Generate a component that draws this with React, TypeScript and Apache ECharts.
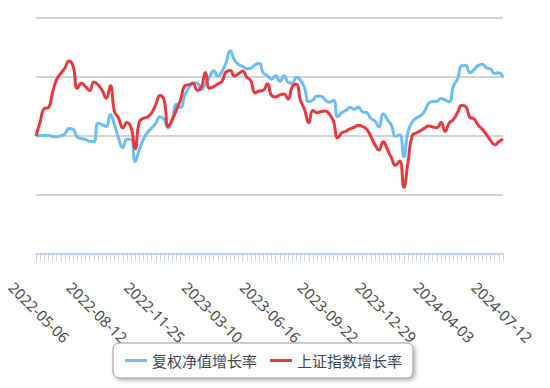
import React, { useEffect, useRef } from "react";
import * as echarts from "echarts";

const dates: string[] = [
  "2022-05-06", "2022-05-13", "2022-05-20", "2022-05-27", "2022-06-02", "2022-06-10", "2022-06-17", "2022-06-24", "2022-07-01", "2022-07-08",
  "2022-07-15", "2022-07-22", "2022-07-29", "2022-08-05", "2022-08-12", "2022-08-19", "2022-08-26", "2022-09-02", "2022-09-09", "2022-09-16",
  "2022-09-23", "2022-09-30", "2022-10-14", "2022-10-21", "2022-10-28", "2022-11-04", "2022-11-11", "2022-11-18", "2022-11-25", "2022-12-02",
  "2022-12-09", "2022-12-16", "2022-12-23", "2022-12-30", "2023-01-06", "2023-01-13", "2023-01-20", "2023-02-03", "2023-02-10", "2023-02-17",
  "2023-02-24", "2023-03-03", "2023-03-10", "2023-03-17", "2023-03-24", "2023-03-31", "2023-04-07", "2023-04-14", "2023-04-21", "2023-04-28",
  "2023-05-05", "2023-05-12", "2023-05-19", "2023-05-26", "2023-06-02", "2023-06-09", "2023-06-16", "2023-06-21", "2023-06-30", "2023-07-07",
  "2023-07-14", "2023-07-21", "2023-07-28", "2023-08-04", "2023-08-11", "2023-08-18", "2023-08-25", "2023-09-01", "2023-09-08", "2023-09-15",
  "2023-09-22", "2023-09-28", "2023-10-06", "2023-10-13", "2023-10-20", "2023-10-27", "2023-11-03", "2023-11-10", "2023-11-17", "2023-11-24",
  "2023-12-01", "2023-12-08", "2023-12-15", "2023-12-22", "2023-12-29", "2024-01-05", "2024-01-12", "2024-01-19", "2024-01-26", "2024-02-02",
  "2024-02-06", "2024-02-08", "2024-02-23", "2024-03-01", "2024-03-08", "2024-03-15", "2024-03-22", "2024-03-29", "2024-04-03", "2024-04-12",
  "2024-04-19", "2024-04-26", "2024-04-30", "2024-05-10", "2024-05-17", "2024-05-24", "2024-05-31", "2024-06-07", "2024-06-14", "2024-06-21",
  "2024-06-28", "2024-07-05", "2024-07-12", "2024-07-19",
];

// 复权净值增长率 (%)
const fundGrowth: number[] = [
  0, 0.08, 0.08, 0.12, -0.08, -0.12, 0.03, 0.37, 1.29, 1.12,
  -0.22, -0.45, -0.6, -0.91, -0.94, 2.18, 1.94, 1.63, 3.64, 1.88,
  -0.39, -1.98, -0.55, -0.57, -4.33, -2.31, -0.52, 0.62, 1.38, 2.15,
  3.25, 2.82, 1.38, 2.89, 5.37, 4.8, 6.88, 8.17, 9.02, 8.96,
  7.87, 8.79, 10.02, 11.07, 10.13, 10.94, 12.45, 14.46, 12.89, 12.13,
  11.8, 11.4, 11.49, 12.06, 12.28, 10.67, 10.22, 9.64, 10.23, 9.26,
  10.23, 9.09, 8.93, 9.93, 9.45, 8.09, 5.79, 6.12, 6.76, 6.74,
  6.11, 5.72, 6.06, 3.27, 3.96, 4.35, 4.85, 4.55, 4.87, 4.11,
  3.98, 3.01, 2.55, 1.51, 3.78, 2.79, 1.83, -0.03, 0.2, -3.49,
  0.64, 2.35, 3.04, 3.42, 4.16, 5.55, 5.84, 5.89, 6.36, 6.12,
  5.79, 8.47, 9.68, 11.91, 11.95, 10.72, 11.24, 11.93, 12.16, 11.54,
  11.36, 10.6, 10.74, 9.89,
];

// 上证指数增长率 (%)
const indexGrowth: number[] = [
  0, 2.38, 4.65, 4.82, 7.33, 9.6, 10.6, 11.53, 12.7, 11.78,
  8.09, 8.96, 8.37, 7.7, 9.14, 8.69, 7.75, 6.41, 8.51, 4.14,
  3.0, 1.38, 2.3, 1.46, -2.15, 2.38, 3.0, 3.22, 3.91, 5.35,
  6.88, 6.07, 1.63, 2.8, 4.48, 6.17, 8.51, 8.71, 8.88, 7.77,
  8.26, 10.77, 8.09, 8.36, 8.84, 9.26, 10.87, 11.09, 10.17, 10.54,
  11.01, 9.98, 9.35, 7.33, 7.63, 7.75, 8.84, 6.86, 6.63, 6.95,
  7.1, 6.29, 8.34, 8.76, 6.04, 4.46, 2.27, 4.33, 3.96, 4.16,
  4.23, 3.72, 2.48, -0.3, 0.52, 0.81, 1.21, 1.48, 1.83, 1.61,
  1.17, -0.07, -1.46, -2.38, -0.97, -2.25, -3.71, -4.95, -4.24, -8.69,
  -4.5, 0.03, 0.52, 0.87, 1.34, 1.68, 1.54, 1.38, 2.27, 0.79,
  2.23, 2.8, 3.98, 5.15, 4.98, 3.14, 2.9, 1.83, 1.14, 0.23,
  -0.74, -1.49, -0.97, -0.52,
];

const seriesNames: string[] = ["复权净值增长率", "上证指数增长率"];

const CJK_FONT = "'Noto Sans CJK SC', 'Noto Sans', sans-serif";
const LATIN_FONT = "'Noto Sans', 'Open Sans', sans-serif";

export default function App() {
  const ref = useRef<HTMLDivElement>(null);

  useEffect(() => {
    if (!ref.current) return;
    const chart = echarts.init(ref.current, undefined, { renderer: "svg" });
    chart.setOption({
      animation: false,
      backgroundColor: "#ffffff",
      grid: { left: 36, right: 47, top: 18, bottom: 134 },
      legend: {
        left: 113,
        top: 343,
        data: seriesNames,
        icon: "rect",
        backgroundColor: "#ffffff",
        borderColor: "#999999",
        borderWidth: 1,
        borderRadius: 6,
        shadowBlur: 4,
        shadowColor: "rgba(0,0,0,0.3)",
        shadowOffsetX: 2,
        shadowOffsetY: 2,
        padding: [10, 11, 10, 12],
        itemWidth: 22,
        itemHeight: 3,
        itemGap: 13,
        textStyle: { fontSize: 15, color: "#3c4654", fontFamily: CJK_FONT, lineHeight: 15 },
      },
      xAxis: {
        type: "category",
        boundaryGap: false,
        data: dates,
        axisLine: { show: true, onZero: false, lineStyle: { color: "#c5d3e6", width: 2 } },
        axisTick: { show: true, interval: 0, length: 7, lineStyle: { color: "#c5d3e6", width: 1 } },
        axisLabel: {
          interval: 13,
          rotate: -45,
          align: "center",
          verticalAlign: "middle",
          margin: 55,
          padding: [0, 0, 0, 9],
          fontSize: 15,
          color: "#4a4a4a",
          fontFamily: LATIN_FONT,
        },
        splitLine: { show: false },
      },
      yAxis: {
        type: "value",
        min: -20,
        max: 20,
        interval: 10,
        axisLine: { show: false },
        axisTick: { show: false },
        axisLabel: { show: false },
        splitLine: { show: true, lineStyle: { color: "#c4c4c4", width: 1.5 } },
      },
      series: [
        {
          name: seriesNames[0],
          type: "line",
          data: fundGrowth,
          symbol: "none",
          smooth: true,
          lineStyle: { color: "#6cbcf5", width: 3 },
          itemStyle: { color: "#6cbcf5" },
        },
        {
          name: seriesNames[1],
          type: "line",
          data: indexGrowth,
          symbol: "none",
          smooth: true,
          lineStyle: { color: "#e8383d", width: 3 },
          itemStyle: { color: "#e8383d" },
        },
      ],
    });
    return () => chart.dispose();
  }, []);

  return (
    <div
      ref={ref}
      style={{ position: "fixed", left: 0, top: 0, width: 550, height: 388 }}
    />
  );
}
